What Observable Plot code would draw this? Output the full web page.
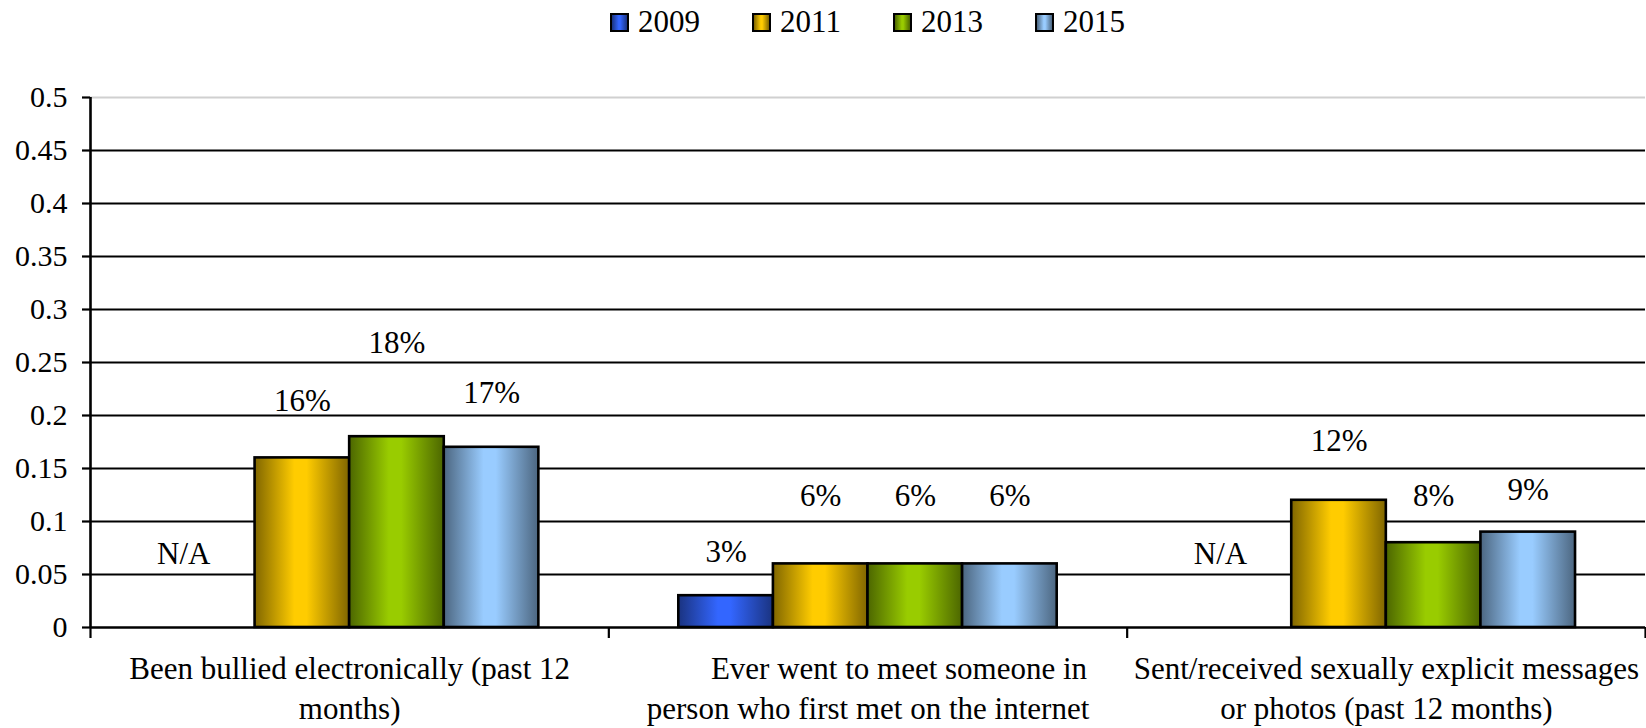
<!DOCTYPE html>
<html><head><meta charset="utf-8">
<script src="https://cdn.jsdelivr.net/npm/d3@7"></script>
<script src="https://cdn.jsdelivr.net/npm/@observablehq/plot@0.6"></script>
<style>
body{margin:0;background:#fff;font-family:"Liberation Serif","Times New Roman","DejaVu Serif",serif;}
#legend{display:flex;margin-left:90px;width:1555px;justify-content:center;align-items:center;height:44px;font-size:31px;gap:52px;color:#000;}
#legend .item{display:flex;align-items:center;}
#legend .sw{width:15px;height:15px;border:2px solid #000;margin-right:9px;}
svg text{font-family:"Liberation Serif","Times New Roman","DejaVu Serif",serif;}
</style></head><body>
<div id="legend"></div><div id="chart"></div>
<script>
const categories = [
  "Been bullied electronically (past 12\nmonths)",
  "\u00a0\u00a0\u00a0\u00a0\u00a0\u00a0\u00a0\u00a0Ever went to meet someone in\nperson who first met on the internet",
  "Sent/received sexually explicit messages\nor photos (past 12 months)"
];
const years = ["2009", "2011", "2013", "2015"];
const v2009 = [null, 0.03, null];
const v2011 = [0.16, 0.06, 0.12];
const v2013 = [0.18, 0.06, 0.08];
const v2015 = [0.17, 0.06, 0.09];
// data-label anchors (value units)
const lab2009 = [0.069, 0.0716, 0.069];
const lab2011 = [0.214, 0.124, 0.1755];
const lab2013 = [0.268, 0.124, 0.124];
const lab2015 = [0.221, 0.124, 0.130];
const yTicks = [0, 0.05, 0.1, 0.15, 0.2, 0.25, 0.3, 0.35, 0.4, 0.45, 0.5];
const bright = {"2009": "#3366ff", "2011": "#ffcc00", "2013": "#99cc00", "2015": "#99ccff"};
const dark = {"2009": "#1a3380", "2011": "#806600", "2013": "#4c6600", "2015": "#4c6680"};

const series = {"2009": v2009, "2011": v2011, "2013": v2013, "2015": v2015};
const labels = {"2009": lab2009, "2011": lab2011, "2013": lab2013, "2015": lab2015};
const OUTER = 0.135, BAR = (1 - 2 * OUTER) / 4;
const rows = [];
categories.forEach((c, i) => years.forEach((y, j) => {
  const v = series[y][i];
  rows.push({i, j, year: y, value: v, labelY: labels[y][i],
    text: v == null ? "N/A" : Math.round(v * 100) + "%",
    x1: i + OUTER + j * BAR, x2: i + OUTER + (j + 1) * BAR, xc: i + OUTER + (j + 0.5) * BAR});
}));

// legend
const leg = document.getElementById("legend");
years.forEach(y => {
  const it = document.createElement("div"); it.className = "item";
  const sw = document.createElement("div"); sw.className = "sw";
  sw.style.background = `linear-gradient(to right, ${dark[y]}, ${bright[y]} 45%, ${bright[y]} 55%, ${dark[y]})`;
  const t = document.createElement("span"); t.textContent = y;
  it.append(sw, t); leg.append(it);
});

const FONT = "Liberation Serif, Times New Roman, DejaVu Serif, serif";
const chart = Plot.plot({
  width: 1646, height: 684,
  marginLeft: 90, marginRight: 1, marginTop: 53, marginBottom: 101,
  x: {domain: [0, 3], axis: null},
  y: {domain: [0, 0.5], axis: null},
  style: {fontFamily: FONT, fontSize: "31px", color: "black", background: "white", overflow: "visible"},
  marks: [
    Plot.ruleY(yTicks.filter(t => t > 0 && t < 0.5), {stroke: "black", strokeWidth: 2.2}),
    Plot.ruleY([0.5], {stroke: "#d0d0d0", strokeWidth: 2}),
    ...years.map(y => Plot.rect(rows.filter(r => r.year === y && r.value != null), {
      x1: "x1", x2: "x2", y1: () => 0, y2: "value",
      fill: `url(#grad${y})`, stroke: "black", strokeWidth: 2.6
    })),
    Plot.ruleY([0], {stroke: "black", strokeWidth: 2.6}),
    Plot.ruleX([0], {y1: () => 0, y2: () => 0.5, stroke: "black", strokeWidth: 2.6}),
    Plot.axisY({ticks: yTicks, tickSize: 8, tickPadding: 15, strokeWidth: 2.2, tickFormat: d => String(d), fill: "black", fontSize: 30}),
    Plot.axisX({ticks: [0, 1, 2, 3], tickSize: 11, strokeWidth: 2.2, tickFormat: () => ""}),
    Plot.axisX({ticks: [0.5, 1.5, 2.5], tickSize: 0, tickPadding: 22, lineHeight: 1.32, fill: "black", fontSize: 31,
      tickFormat: d => categories[Math.floor(d)]}),
    Plot.text(rows.filter(r => r.value != null), {x: "xc", y: "labelY", text: "text", fill: "black", lineAnchor: "middle", fontSize: 31}),
    Plot.text(rows.filter(r => r.value == null), {x: "xc", y: "labelY", text: "text", fill: "black", lineAnchor: "middle", dx: -24, fontSize: 31})
  ]
});

const defs = d3.select(chart).insert("defs", ":first-child");
years.forEach(y => {
  const g = defs.append("linearGradient").attr("id", "grad" + y)
    .attr("x1", 0).attr("x2", 1).attr("y1", 0).attr("y2", 0);
  [[0, dark[y]], [0.42, bright[y]], [0.55, bright[y]], [1, dark[y]]].forEach(([o, c]) =>
    g.append("stop").attr("offset", o).attr("stop-color", c));
});
document.getElementById("chart").append(chart);
</script>
</body></html>
